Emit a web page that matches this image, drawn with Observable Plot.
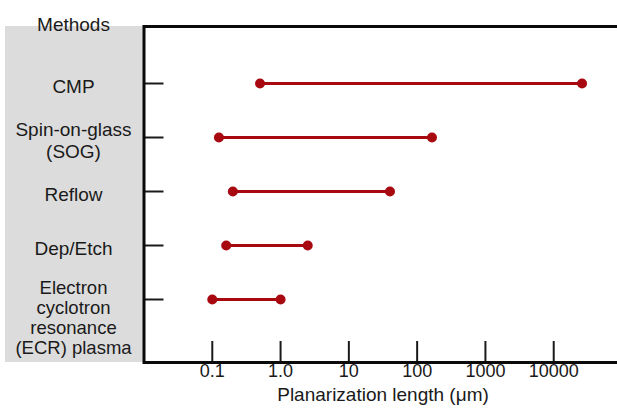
<!DOCTYPE html>
<html>
<head>
<meta charset="utf-8">
<script src="https://cdn.jsdelivr.net/npm/d3@7"></script>
<script src="https://cdn.jsdelivr.net/npm/@observablehq/plot@0.6"></script>
<style>
  html, body { margin: 0; padding: 0; background: #fff; }
  #chart svg { display: block; }
</style>
</head>
<body>
<div id="chart"></div>
<script>
const methods = ["CMP", "Spin-on-glass\n(SOG)", "Reflow", "Dep/Etch", "Electron\ncyclotron\nresonance\n(ECR) plasma"];
const minLength = [0.5, 0.125, 0.2, 0.16, 0.1];
const maxLength = [26000, 165, 40, 2.5, 1.0];
const xTicks = [0.1, 1, 10, 100, 1000, 10000];
const xTickLabels = ["0.1", "1.0", "10", "100", "1000", "10000"];
const xLabel = "Planarization length (\u03bcm)";
const yHeader = "Methods";

const rows = methods.map((m, i) => ({method: m, lo: minLength[i], hi: maxLength[i]}));
const ticks = xTicks.map((v, i) => ({v, label: xTickLabels[i]}));

const red = "#a80810";
const ink = "#1a1a1a";
const W = 617, H = 415, mT = 26, mB = 53, mL = 143.5, mR = -4.5;
const frameW = W - mL - mR, frameH = H - mT - mB;
const fs = 19;

const chart = Plot.plot({
  width: W,
  height: H,
  marginTop: mT,
  marginBottom: mB,
  marginLeft: mL,
  marginRight: mR,
  style: {fontFamily: "'Liberation Sans', Arial, sans-serif", fontSize: fs + "px", color: ink, background: "transparent"},
  x: {type: "log", domain: [0.01, 100000], axis: null},
  y: {type: "point", domain: methods, range: [81, 300], padding: 0, axis: null},
  marks: [
    // y ticks (inward)
    Plot.ruleY(methods, {y: d => d, stroke: ink, strokeWidth: 2, insetRight: frameW - 20}),
    // x ticks (inward)
    Plot.ruleX(ticks, {x: "v", stroke: ink, strokeWidth: 2, insetTop: frameH - 21}),
    // x tick labels
    Plot.text(ticks, {x: "v", text: "label", frameAnchor: "bottom", dy: 14.5, fill: ink, fontSize: 18}),
    // x axis label
    Plot.text([xLabel], {text: d => d, frameAnchor: "bottom", dy: 38.5, fill: ink, fontSize: 19}),
    // y labels
    Plot.text(rows.slice(0, 4), {y: "method", text: "method", frameAnchor: "left", dx: -70.5, dy: 2.5, textAnchor: "middle", lineHeight: 1.16, fill: ink, fontSize: fs}),
    Plot.text(rows.slice(4), {y: "method", text: "method", frameAnchor: "left", dx: -70.5, dy: -20, textAnchor: "middle", lineAnchor: "top", lineHeight: 1.08, fill: ink, fontSize: 18.5}),
    // header
    Plot.text([yHeader], {text: d => d, frameAnchor: "top-left", dx: -70.5, dy: -9.5, textAnchor: "middle", fill: ink, fontSize: 19}),
    // ranges
    Plot.link(rows, {x1: "lo", x2: "hi", y1: "method", y2: "method", stroke: red, strokeWidth: 3}),
    Plot.dot(rows, {x: "lo", y: "method", r: 5, fill: red}),
    Plot.dot(rows, {x: "hi", y: "method", r: 5, fill: red}),
    Plot.frame({stroke: "#0a0a0a", strokeWidth: 3})
  ]
});

// gray label panel behind the category labels
d3.select(chart).insert("rect", ":first-child")
  .attr("x", 5).attr("y", mT).attr("width", mL - 5).attr("height", frameH)
  .attr("fill", "#dcdcdc");

document.getElementById("chart").appendChild(chart);
</script>
</body>
</html>
